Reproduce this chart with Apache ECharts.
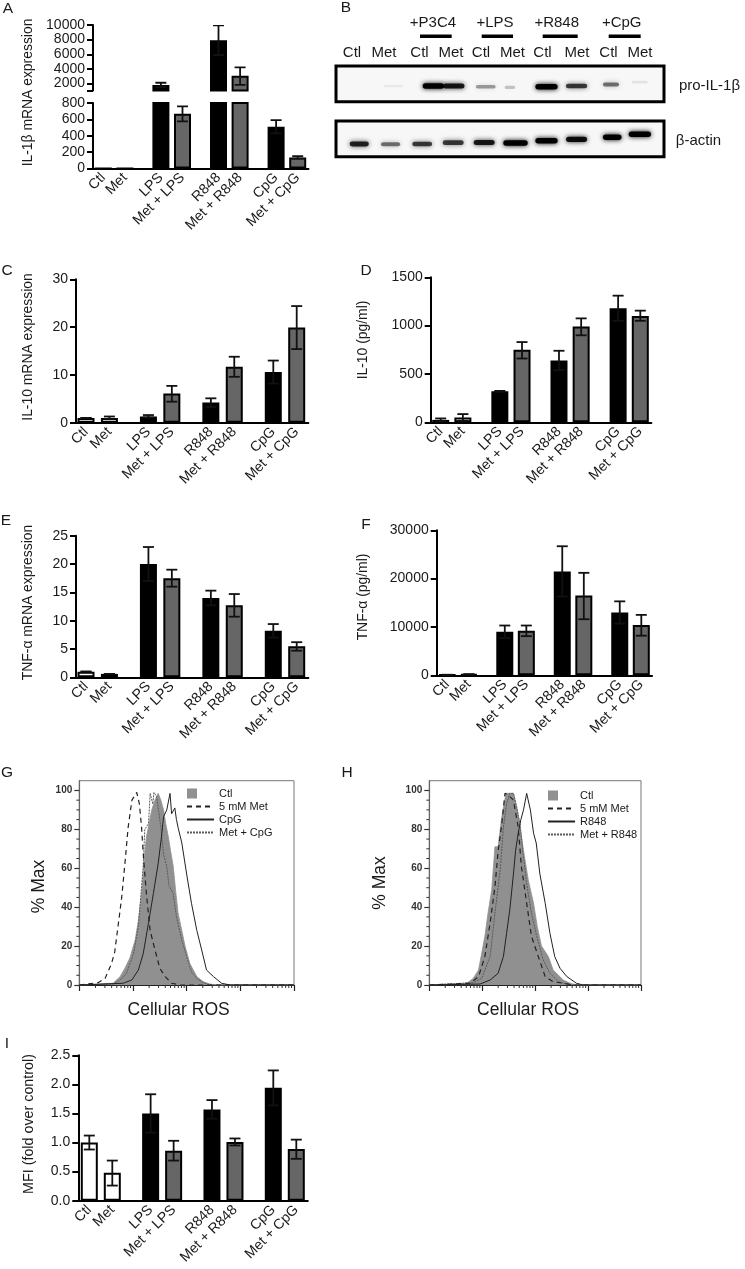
<!DOCTYPE html>
<html><head><meta charset="utf-8">
<style>html,body{margin:0;padding:0;background:#fff}#c{width:745px;height:1269px}</style>
<script src="https://cdn.jsdelivr.net/npm/echarts@6/dist/echarts.min.js"></script>
</head><body><div id="c"></div>
<script>
// ---------- data ----------
const conditions = ['Ctl','Met','LPS','Met + LPS','R848','Met + R848','CpG','Met + CpG'];
const barFills   = ['#ffffff','#ffffff','#000000','#666666','#000000','#666666','#000000','#666666'];

const il1bVals  = [0,0,1800,670,7900,3050,510,135];
const il1bLow   = [null,null,1500,575,5900,1800,430,120];
const il1bHigh  = [null,null,2100,760,9950,4200,590,150];

const il10mVals = [1,1,1.3,6.1,4.2,11.7,10.6,19.9];
const il10mLow  = [1,0.8,1.1,4.4,3.3,9.6,8.2,15.4];
const il10mHigh = [1,1.3,1.6,7.7,5.1,13.8,13,24.4];

const il10pVals = [25,50,320,750,640,990,1180,1100];
const il10pLow  = [10,15,315,660,540,900,1050,1050];
const il10pHigh = [40,85,325,830,740,1075,1310,1155];

const tnfmVals  = [1,0.6,20,17.5,14,12.7,8.2,5.5];
const tnfmLow   = [1,0.6,17,16,12.7,10.7,7,4.7];
const tnfmHigh  = [1,0.6,23,19,15.3,14.7,9.4,6.2];

const tnfpVals  = [100,200,9000,9200,21500,16500,13000,10400];
const tnfpLow   = [100,200,7700,8100,16300,11600,10700,8200];
const tnfpHigh  = [100,200,10300,10300,26700,21200,15300,12500];

const mfiVals   = [1.0,0.48,1.5,0.86,1.57,1.01,1.94,0.89];
const mfiLow    = [0.88,0.26,1.17,0.69,1.41,0.95,1.64,0.72];
const mfiHigh   = [1.12,0.69,1.83,1.03,1.73,1.07,2.24,1.05];

// flow histograms: [log10 fluorescence, % max]
const gCtl = [[0,0],[0.63,0.9],[0.76,4.3],[0.85,8.6],[0.94,13.7],[1.04,23],[1.10,33],[1.16,47],[1.19,57],[1.22,68],[1.25,76],[1.30,83],[1.35,90],[1.41,95],[1.47,98.5],[1.52,95],[1.57,90],[1.61,83],[1.66,76],[1.70,69],[1.75,61],[1.80,47],[1.84,37],[1.91,28],[1.97,20],[2.06,11],[2.19,4.3],[2.31,1.7],[2.43,0.5],[2.56,0],[4,0]];
const gMet = [[0,0],[0.35,1.2],[0.48,3.4],[0.60,11],[0.66,17],[0.73,32],[0.79,45],[0.85,62.5],[0.91,81],[0.98,95],[1.07,99],[1.12,93],[1.16,81],[1.20,64],[1.25,47],[1.32,28],[1.41,18],[1.50,8.6],[1.60,4.3],[1.72,0.9],[1.88,0],[4,0]];
const gStim = [[0,0],[0.82,0.9],[0.98,2.6],[1.10,7.7],[1.19,16],[1.29,32],[1.38,47],[1.47,62.5],[1.53,76],[1.57,86.5],[1.63,90],[1.69,98.5],[1.72,88],[1.78,91],[1.81,85],[1.84,81],[1.91,73],[2.00,57],[2.09,42],[2.19,28],[2.28,18],[2.37,7.7],[2.50,4.3],[2.65,0.9],[2.81,0],[4,0]];
const gMetStim = [[0,0],[0.63,0.5],[0.76,2.6],[0.88,6],[1.01,16],[1.10,30],[1.16,50.5],[1.19,61],[1.22,80],[1.29,83],[1.32,98.5],[1.37,93],[1.39,99],[1.44,97],[1.47,97],[1.52,81],[1.57,67],[1.63,61],[1.67,51],[1.75,47],[1.81,35],[1.91,23],[2.00,14.6],[2.09,6.8],[2.22,2.6],[2.37,0.5],[2.50,0],[4,0]];

const hCtl = [[0,0],[0.71,0.9],[0.83,3.4],[0.93,7.7],[1.05,25],[1.11,37],[1.18,49],[1.24,71],[1.30,71],[1.37,86.5],[1.45,98.5],[1.59,98.5],[1.65,91.6],[1.71,83],[1.78,69],[1.87,54],[1.97,42],[2.04,30],[2.12,20],[2.25,14.6],[2.34,7.7],[2.53,2.6],[2.66,0.9],[2.78,0],[4,0]];
const hMet = [[0,0],[0.77,0.9],[0.93,4.3],[1.05,14.6],[1.15,32],[1.24,50.5],[1.30,68.5],[1.37,83],[1.43,98.5],[1.49,97.6],[1.59,95],[1.68,81],[1.74,61],[1.84,42],[1.93,25],[2.06,14.6],[2.19,4.3],[2.34,1.7],[2.53,0.9],[2.72,0],[4,0]];
const hStim = [[0,0],[0.96,0.5],[1.15,2.6],[1.30,6],[1.40,14.6],[1.46,26.5],[1.52,38.5],[1.59,57],[1.63,69],[1.68,78],[1.73,85],[1.78,90],[1.84,98.5],[1.87,98.5],[1.91,90],[1.97,78],[2.02,73],[2.09,57],[2.19,42],[2.28,26.5],[2.37,14.6],[2.47,8.6],[2.60,4.3],[2.78,0.9],[2.91,0],[4,0]];
const hMetStim = [[0,0],[0.83,1.2],[0.99,3.4],[1.15,14.6],[1.24,37],[1.34,59],[1.40,81],[1.46,93],[1.52,98.5],[1.59,98.5],[1.65,91.6],[1.71,83],[1.78,66],[1.84,52],[1.93,37],[2.03,25],[2.15,13],[2.28,6],[2.44,1.7],[2.60,0.5],[2.72,0],[4,0]];

// western blot bands: [lane, migration 0-1, width in lanes, intensity 0-1]
const proIL1bBands = [[2.11,0.56,0.8,0.06],[3.40,0.56,0.85,1],[4.06,0.56,0.85,0.85],[5.09,0.58,0.8,0.35],[5.87,0.60,0.5,0.2],[7.05,0.58,0.88,1],[8.02,0.56,0.85,0.7],[9.13,0.52,0.68,0.5],[10.06,0.45,0.68,0.08]];
const actinBands   = [[1.01,0.645,0.78,0.8],[2.02,0.654,0.78,0.5],[3.04,0.645,0.8,0.7],[4.04,0.607,0.84,0.7],[5.04,0.60,0.84,0.85],[6.05,0.617,0.95,1],[7.05,0.55,0.88,1],[8.02,0.514,0.84,0.9],[9.17,0.458,0.76,1],[10.06,0.374,0.88,1]];

const laneLabels = [['Ctl',352],['Met',384],['Ctl',419.5],['Met',451],['Ctl',481],['Met',512.5],['Ctl',542.5],['Met',577],['Ctl',608.5],['Met',640]];
const treatments = ['+P3C4','+LPS','+R848','+CpG'];

const yTicksFlow = [0,20,40,60,80,100];
const slotsOfBars = [1,4,9,12,17,20,25,28]; // 3 slots within a pair, 5 between groups
const slotCount = 30;

// ---------- builders ----------
const FONT = '"Liberation Sans", Arial, sans-serif';
const INK = '#1a1a1a';
const grids=[], xAxes=[], yAxes=[], series=[], graphics=[];

const blanks = () => { const a=new Array(slotCount).fill(''); slotsOfBars.forEach((s,i)=>a[s]=conditions[i]); return a; };
const slotted = vals => { const a=new Array(slotCount).fill('-'); slotsOfBars.forEach((s,i)=>{ a[s]={value:vals[i],itemStyle:{color:barFills[i]}}; }); return a; };

function errorSeries(gi, lo, hi, clip){
  const d=[]; slotsOfBars.forEach((s,i)=>{ if(lo[i]!==null) d.push([s,lo[i],hi[i]]); });
  return {type:'custom',xAxisIndex:gi,yAxisIndex:gi,clip:!!clip,z:5,data:d,encode:{x:0,y:[1,2]},
    renderItem(p,api){
      const a=api.coord([api.value(0),api.value(1)]), b=api.coord([api.value(0),api.value(2)]);
      const st={stroke:'#111',lineWidth:1.8,fill:null}, c=5.5;
      return {type:'group',children:[
        {type:'line',shape:{x1:a[0],y1:a[1],x2:b[0],y2:b[1]},style:st},
        {type:'line',shape:{x1:a[0]-c,y1:a[1],x2:a[0]+c,y2:a[1]},style:st},
        {type:'line',shape:{x1:b[0]-c,y1:b[1],x2:b[0]+c,y2:b[1]},style:st}]};
    }};
}
function addBarGrid(o){
  const gi=grids.length, slot=(o.last-o.first)/27, left=o.first-1.5*slot;
  grids.push({left,top:o.top,width:slot*slotCount,height:o.bottom-o.top});
  xAxes.push({gridIndex:gi,type:'category',data:blanks(),show:o.xShow!==false,
    axisLine:{onZero:false,lineStyle:{color:'#000',width:2}},
    axisTick:{alignWithLabel:true,length:5,interval:(i,v)=>v!=='',lineStyle:{color:'#000',width:2}},
    axisLabel:{interval:(i,v)=>v!=='',rotate:45,margin:7,fontSize:14.2,fontFamily:FONT,color:INK}});
  const dec=o.decimals||0;
  const y={gridIndex:gi,type:'value',min:o.min,max:o.max,offset:left-o.axisX,splitLine:{show:false},
    axisLine:{show:true,onZero:false,lineStyle:{color:'#000',width:2}},
    axisTick:{show:true,length:6,lineStyle:{color:'#000',width:2}},
    axisLabel:{margin:8,fontSize:14,fontFamily:FONT,color:INK,formatter:v=>Number(v).toFixed(dec)}};
  if(o.interval) y.interval=o.interval;
  if(o.tickValues) y.axisTick.customValues=o.tickValues;
  if(o.labelValues) y.axisLabel.customValues=o.labelValues;
  yAxes.push(y);
  series.push({type:'bar',xAxisIndex:gi,yAxisIndex:gi,data:slotted(o.vals),barWidth:17,z:3,
    itemStyle:{borderColor:'#000',borderWidth:2}});
  series.push(errorSeries(gi,o.lo,o.hi,o.clip));
}
function addFlow(o){
  const gi=grids.length;
  grids.push({left:o.left,top:o.top,width:o.width,height:o.bottom-o.top,show:true,borderColor:'#777',borderWidth:1,backgroundColor:'#fff'});
  xAxes.push({gridIndex:gi,type:'value',min:0,max:4,interval:1,name:'Cellular ROS',nameLocation:'middle',nameGap:16,
    nameTextStyle:{fontSize:17.5,fontFamily:FONT,color:INK,padding:[0,o.namePad,0,0]},
    axisLine:{onZero:false,lineStyle:{color:'#222',width:1.2}},axisTick:{length:6,lineStyle:{color:'#222',width:1.2}},axisLabel:{show:false},splitLine:{show:false}});
  yAxes.push({gridIndex:gi,type:'value',min:0,max:105,splitLine:{show:false},
    axisLine:{show:true,onZero:false,lineStyle:{color:'#666',width:1.2}},
    axisTick:{show:true,length:5,customValues:yTicksFlow,lineStyle:{color:'#333',width:1.2}},
    axisLabel:{customValues:yTicksFlow,margin:7,fontSize:10,fontWeight:'bold',fontFamily:FONT,color:'#333'}});
  const line=(name,data,color,width,type,z)=>({type:'line',name,xAxisIndex:gi,yAxisIndex:gi,data,symbol:'none',smooth:false,z,
    lineStyle:{color,width,type},itemStyle:{color}});
  const ctl=line('Ctl',o.ctl,'#909090',0.8,'solid',2);
  ctl.areaStyle={color:'#909090',opacity:1};
  series.push(ctl,
    line(o.stimMetName,o.metStim,'#5a5a5a',1,[2,1],3),
    line('5 mM Met',o.met,'#222',1.2,[5,4],4),
    line(o.stimName,o.stim,'#222',1,'solid',5));
  const minorX=[]; [0,1,2,3].forEach(k=>[0.301,0.477,0.602,0.699,0.778,0.845,0.903,0.954].forEach(f=>minorX.push([k+f,0,0])));
  const minorY=[]; for(let v=5;v<100;v+=5) if(v%20) minorY.push([0,v,1]);
  series.push({type:'custom',xAxisIndex:gi,yAxisIndex:gi,clip:false,silent:true,z:6,data:minorX.concat(minorY),encode:{x:0,y:1},
    renderItem(p,api){
      const c=api.coord([api.value(0),api.value(1)]), isY=api.value(2)===1;
      return {type:'line',shape:isY?{x1:c[0]-3,y1:c[1],x2:c[0],y2:c[1]}:{x1:c[0],y1:c[1],x2:c[0],y2:c[1]+3},
        style:{stroke:'#333',lineWidth:1,fill:null}};
    }});
}
function addBlot(top,height,bands){
  const gi=grids.length;
  grids.push({left:336,top,width:328,height,show:true,borderColor:'#000',borderWidth:3,backgroundColor:'#f7f7f7'});
  xAxes.push({gridIndex:gi,type:'value',min:0.26,max:10.84,show:false});
  yAxes.push({gridIndex:gi,type:'value',min:0,max:1,inverse:true,show:false});
  series.push({type:'custom',xAxisIndex:gi,yAxisIndex:gi,data:bands,encode:{x:0,y:1},silent:true,
    renderItem(p,api){
      const w=api.value(2), a=api.value(3);
      const l=api.coord([api.value(0)-w/2,api.value(1)]), r=api.coord([api.value(0)+w/2,api.value(1)]);
      const h=2.5+3*a, ins=2.5;
      return {type:'rect',shape:{x:l[0]+ins,y:l[1]-h/2,width:r[0]-l[0]-2*ins,height:h,r:h/2},
        style:{fill:`rgba(0,0,0,${a})`,shadowBlur:5,shadowColor:`rgba(0,0,0,${Math.min(1,a*1.1)})`}};
    }});
}
function txt(text,x,y,size,rot){
  graphics.push({type:'text',x,y,rotation:rot?Math.PI/2:0,z:20,
    style:{text,fontSize:size,fontFamily:FONT,fill:INK,align:'center',verticalAlign:'middle'}});
}

// ---------- panels ----------
// A (broken axis)
addBarGrid({first:103.3,last:297.7,axisX:93,top:25,bottom:90.45,min:1050,max:10000,vals:il1bVals,lo:il1bLow,hi:il1bHigh,clip:true,
  xShow:false,tickValues:[1050,2000,4000,6000,8000,10000],labelValues:[2000,4000,6000,8000,10000]});
addBarGrid({first:103.3,last:297.7,axisX:93,top:103,bottom:168.5,min:0,max:800,interval:200,vals:il1bVals,lo:il1bLow,hi:il1bHigh,clip:true});
// C, D, E, F, I
addBarGrid({first:86,last:296.7,axisX:76,top:279.3,bottom:422.7,min:0,max:30,interval:10,vals:il10mVals,lo:il10mLow,hi:il10mHigh});
addBarGrid({first:440.7,last:640.3,axisX:430.7,top:277.3,bottom:422.3,min:0,max:1500,interval:500,vals:il10pVals,lo:il10pLow,hi:il10pHigh});
addBarGrid({first:86,last:296.7,axisX:76,top:535.7,bottom:677.3,min:0,max:25,interval:5,vals:tnfmVals,lo:tnfmLow,hi:tnfmHigh});
addBarGrid({first:447.3,last:641.3,axisX:436.7,top:530.3,bottom:675.3,min:0,max:30000,interval:10000,vals:tnfpVals,lo:tnfpLow,hi:tnfpHigh});
addBarGrid({first:89.3,last:296.3,axisX:78.3,top:1055.3,bottom:1200.7,min:0,max:2.5,interval:0.5,decimals:1,vals:mfiVals,lo:mfiLow,hi:mfiHigh});
// G, H
addFlow({left:79.3,width:214.7,top:780.7,bottom:985,namePad:16,ctl:gCtl,met:gMet,stim:gStim,metStim:gMetStim,stimName:'CpG',stimMetName:'Met + CpG'});
addFlow({left:429.3,width:211.7,top:780.7,bottom:985,namePad:14,ctl:hCtl,met:hMet,stim:hStim,metStim:hMetStim,stimName:'R848',stimMetName:'Met + R848'});
// B
addBlot(66,35.7,proIL1bBands);
addBlot(121,35.7,actinBands);

// ---------- text ----------
[['A',8,9],['B',346,8],['C',7,271],['D',366,271],['E',6,521],['F',366,525],['G',7,773],['H',347,773],['I',7,1044]]
  .forEach(l=>txt(l[0],l[1],l[2],15.5));
txt('IL-1β mRNA expression',28,92.5,13.9,true);
txt('IL-10 mRNA expression',28.5,347,13.9,true);
txt('IL-10 (pg/ml)',363,340,13.9,true);
txt('TNF-α mRNA expression',28.5,602.5,13.9,true);
txt('TNF-α (pg/ml)',363,597,13.9,true);
txt('MFI (fold over control)',29,1124,14.3,true);
txt('% Max',39,886.5,17.5,true);
txt('% Max',380,883,17.5,true);
txt('pro-IL-1β',709.5,85.7,15);
txt('β-actin',698.5,140.7,15);
[433,495,556.7,621.7].forEach((x,i)=>txt(treatments[i],x,22.7,15));
laneLabels.forEach(l=>txt(l[0],l[1],52.7,15));
[[420,451.7],[481.7,513],[542.7,577.7],[608.7,640.7]].forEach(b=>graphics.push({type:'rect',z:20,shape:{x:b[0],y:34.5,width:b[1]-b[0],height:3.5},style:{fill:'#000'}}));

const ctlIcon='path://M0 0H10V10H0Z M27 10h0.01v0.01z';
const hide=name=>({name,itemStyle:{opacity:0}});
const legendBase={orient:'vertical',padding:0,itemWidth:27,itemHeight:10,itemGap:2,selectedMode:false,textStyle:{fontSize:11,fontFamily:FONT,color:INK}};

const chart=echarts.init(document.getElementById('c'),null,{renderer:'canvas'});
chart.setOption({animation:false,backgroundColor:'#fff',grid:grids,xAxis:xAxes,yAxis:yAxes,series,graphic:{elements:graphics},
  legend:[
    Object.assign({},legendBase,{left:186,top:788,data:[{name:'Ctl',icon:ctlIcon},hide('5 mM Met'),hide('CpG'),hide('Met + CpG')]}),
    Object.assign({},legendBase,{left:547,top:790,data:[{name:'Ctl',icon:ctlIcon},hide('5 mM Met'),hide('R848'),hide('Met + R848')]})
  ]});
</script></body></html>
